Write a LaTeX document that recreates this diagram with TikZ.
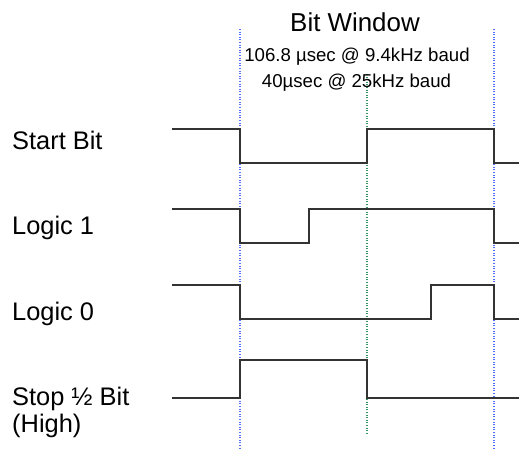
\documentclass[tikz,border=0pt]{standalone}
\usepackage{fontspec}
\setmainfont{Liberation Sans}
\definecolor{gridblue}{RGB}{80,110,255}
\definecolor{gridgreen}{RGB}{50,150,100}
\begin{document}
\begin{tikzpicture}[x=1bp,y=-1bp,
  sig/.style={draw=black!80,line width=1.6bp,line join=miter},
  bluegrid/.style={draw=gridblue,line width=1.2bp,dash pattern=on 1bp off 1.6bp},
  greengrid/.style={draw=gridgreen,line width=1.2bp,dash pattern=on 1bp off 1.6bp},
  lbl/.style={anchor=base west,inner sep=0pt,font=\fontsize{25.5}{30}\selectfont},
  title/.style={anchor=base,inner sep=0pt,font=\fontsize{26}{30}\selectfont},
  sub/.style={anchor=base,inner sep=0pt,font=\fontsize{18.7}{22}\selectfont}]
\useasboundingbox (0,0) rectangle (519,450);
% timing markers
\coordinate (b1top) at (240,29);
\coordinate (b1bot) at (240,450);
\coordinate (b2top) at (494,29);
\coordinate (b2bot) at (494,450);
\coordinate (gtop) at (367,74);
\coordinate (gbot) at (367,434);
\draw[bluegrid] (b1top) -- (b1bot);
\draw[bluegrid] (b2top) -- (b2bot);
\draw[greengrid] (gtop) -- (gbot);
% texts
\node[title] (tw) at (355,32) {Bit Window};
\node[sub] (t1) at (357,62) {106.8 µsec @ 9.4kHz baud};
\node[sub] (t2) at (356.5,88) {40µsec @ 25kHz baud};
\node[lbl] (ls) at (12,150) {Start Bit};
\node[lbl] (l1) at (12,235) {Logic 1};
\node[lbl] (l0) at (12,320) {Logic 0};
\node[lbl] (lp) at (12,405) {Stop ½ Bit};
\node[lbl] (lh) at (12,432) {(High)};
% signals
\draw[sig] (172,129) -- (240,129) -- (240,163) -- (367,163) -- (367,129) -- (494,129) -- (494,163) -- (519,163);
\draw[sig] (172,209) -- (240,209) -- (240,243) -- (309,243) -- (309,209) -- (494,209) -- (494,243) -- (519,243);
\draw[sig] (172,285) -- (240,285) -- (240,319) -- (431,319) -- (431,285) -- (494,285) -- (494,319) -- (519,319);
\draw[sig] (172,398) -- (240,398) -- (240,360) -- (367,360) -- (367,398) -- (519,398);
\end{tikzpicture}
\end{document}
